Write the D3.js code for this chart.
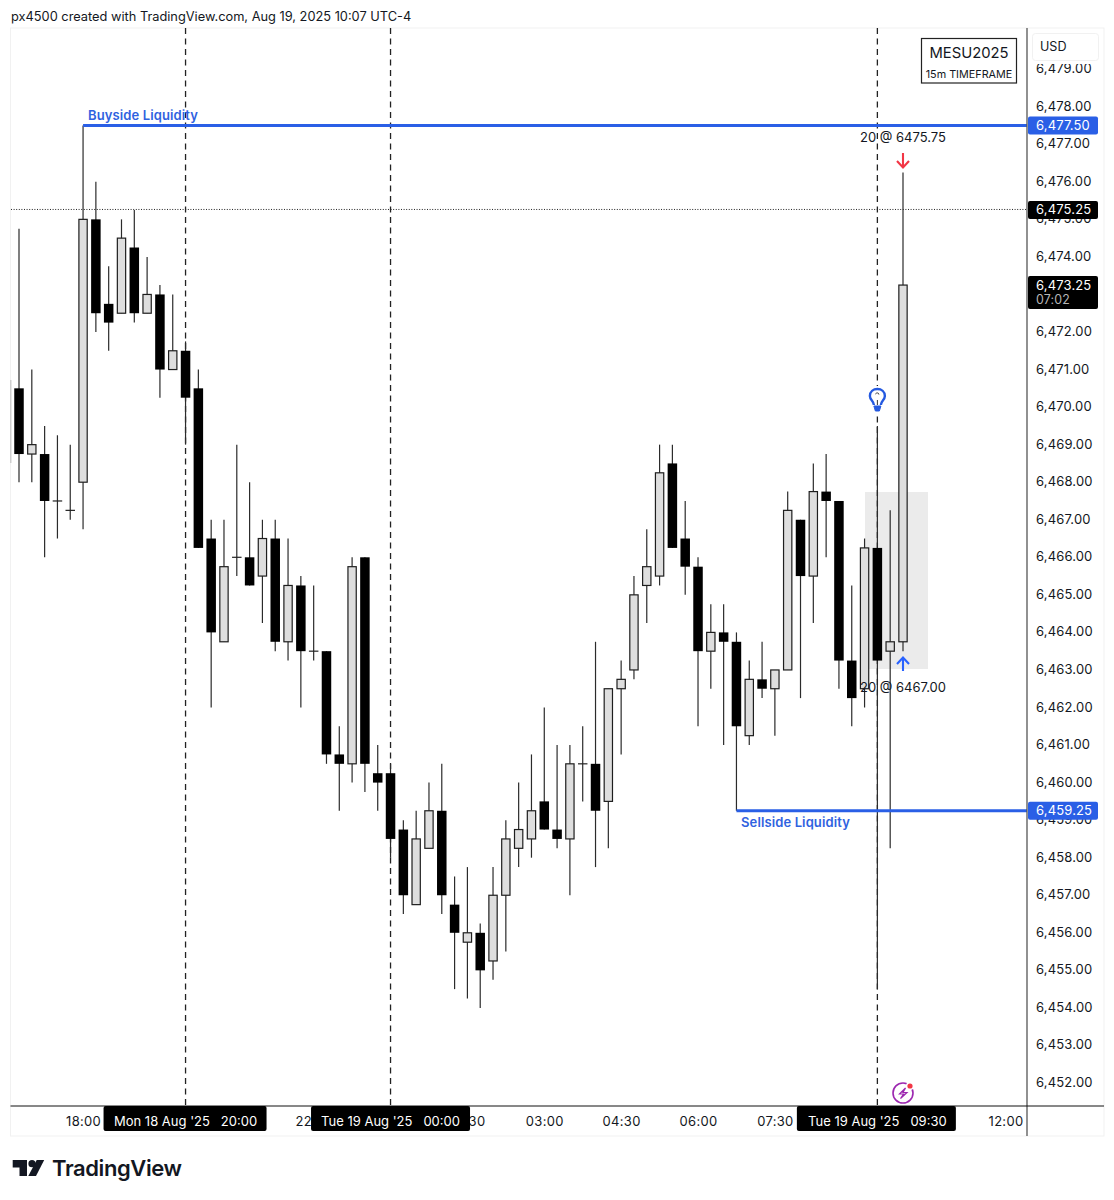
<!DOCTYPE html>
<html><head><meta charset="utf-8">
<script src="https://cdn.jsdelivr.net/npm/d3@7"></script>
<style>
html,body{margin:0;padding:0;background:#fff}
svg{display:block}
text{font-family:Inter,"Noto Sans",sans-serif;fill:#131722}
</style></head><body>
<script>
const opens=[6470.5,6468.75,6468.75,6467.5,6467.25,6468,6475,6472.75,6472.5,6474.25,6472.5,6473,6471,6471.5,6470.5,
6466.5,6463.75,6466,6466,6465.5,6466.5,6463.75,6465.25,6463.5,6463.5,6460.75,6460.5,6466,6460.25,6460.25,
6458.75,6456.75,6458.25,6459.25,6456.75,6455.75,6456,6455.25,6457,6458.25,6458.5,6459.5,6458.75,6458.5,6460.5,
6460.5,6459.5,6462.5,6463,6465.25,6465.5,6468.5,6466.5,6465.75,6463.5,6464,6463.75,6461.25,6462.75,6462.5,
6463,6467,6465.5,6467.75,6467.5,6463.25,6462.5,6466.25,6463.5,6463.75];
const closes=[6468.75,6469,6467.5,6467.5,6467.25,6475,6472.5,6472.25,6474.5,6472.5,6473,6471,6471.5,6470.25,6466.25,
6464,6465.75,6466,6465.25,6466.5,6463.75,6465.25,6463.5,6463.5,6460.75,6460.5,6465.75,6460.5,6460,6458.5,
6457,6458.5,6459.25,6457,6456,6456,6455,6457,6458.5,6458.75,6459.25,6458.75,6458.5,6460.5,6460.5,
6459.25,6462.5,6462.75,6465,6465.75,6468.25,6466.25,6465.75,6463.5,6464,6463.75,6461.5,6462.75,6462.5,6463,
6467.25,6465.5,6467.75,6467.5,6463.25,6462.25,6466.25,6463.25,6463.75,6473.25];
const highs=[6474.75,6471,6469.5,6469.25,6469,6477.5,6476,6473.75,6475,6475.25,6474,6473.25,6473,6471.75,6471,
6467,6467,6469,6468,6467,6467,6466.5,6465.5,6465.25,6463.5,6461.5,6466,6466,6461,6460.5,
6459,6459.25,6460,6460.5,6457.5,6457.75,6456.25,6457.75,6459,6460,6460.75,6462,6461,6461,6461.5,
6463.75,6462.5,6463.25,6465.5,6466.75,6469,6469,6467.5,6466,6464.75,6464.75,6464,6463.25,6463.75,6463,
6467.75,6467,6468.5,6468.75,6467.5,6465.25,6466.5,6469.5,6467.25,6476.25];
const lows=[6468,6468,6466,6466.5,6467,6466.75,6472,6471.5,6472.5,6472.25,6472.5,6470.25,6471,6469,6466.25,
6462,6463.75,6465.5,6465.25,6464.25,6463.5,6463.25,6462,6463.25,6460.5,6459.25,6460,6459.75,6459.25,6458,
6456.5,6456.75,6458.25,6456.5,6454.5,6454.25,6454,6454.75,6455.5,6457.75,6458,6458.75,6458.25,6457,6459.5,
6457.75,6458.25,6460.75,6462.75,6464.25,6465.25,6466.25,6465,6461.5,6462.5,6461,6459.25,6461,6462.25,6461.25,
6463,6462.25,6464.25,6466,6462.5,6461.5,6462,6454.5,6458.25,6463.5];

const priceTicks=[6452,6453,6454,6455,6456,6457,6458,6459,6460,6461,6462,6463,6464,6465,6466,6467,6468,6469,6470,6471,6472,6474,6475,6476,6477,6478,6479];
const timeTickIndex=[5,23,35,41,47,53,59,77];
const timeTickLabels=["18:00","22:30","01:30","03:00","04:30","06:00","07:30","12:00"];
const buysideLevel=6477.5, sellsideLevel=6459.25, crosshairLevel=6475.25, lastPrice=6473.25;
const dashedBars=[13,29,67];
const timeTags=[{bar:13,label:"Mon 18 Aug '25   20:00"},{bar:29,label:"Tue 19 Aug '25   00:00"},{bar:67,label:"Tue 19 Aug '25   09:30"}];
const sellEntry={bar:69,label:"20 @ 6475.75"}, buyEntry={bar:69,label:"20 @ 6467.00"};

const W=1114,H=1200;
const plot={l:11,r:1027,t:28,b:1106,outerR:1104,outerB:1136};
const y=d3.scaleLinear().domain([6452,6479]).range([1083,1083-27*37.55]);
const x=d3.scaleLinear().domain([0,69]).range([19,903]);
const bodyW=9.5;

const svg=d3.select("body").append("svg").attr("width",W).attr("height",H).attr("viewBox",`0 0 ${W} ${H}`);
svg.append("rect").attr("width",W).attr("height",H).attr("fill","#fff");

// frame
svg.append("rect").attr("x",10.5).attr("y",plot.t).attr("width",plot.outerR-10.5).attr("height",plot.outerB-plot.t)
  .attr("fill","#fff").attr("stroke","#f1f1f1");
svg.append("rect").attr("x",10).attr("y",380).attr("width",1.5).attr("height",83).attr("fill","#cfcfcf");

// header text
svg.append("text").attr("x",11).attr("y",21).attr("font-size",12.8).text("px4500 created with TradingView.com, Aug 19, 2025 10:07 UTC-4");

// highlight box
svg.append("rect").attr("x",865).attr("y",492).attr("width",63).attr("height",177).attr("fill","#ebebeb");

// vertical dashed
svg.append("g").selectAll("line").data(dashedBars).join("line")
  .attr("x1",d=>x(d)).attr("x2",d=>x(d)).attr("y1",plot.t).attr("y2",plot.b)
  .attr("stroke","#222").attr("stroke-width",1.3).attr("stroke-dasharray","6,4.5");

// crosshair dotted
svg.append("line").attr("x1",11).attr("x2",plot.r).attr("y1",y(crosshairLevel)-0.5).attr("y2",y(crosshairLevel)-0.5)
  .attr("stroke","#222").attr("stroke-width",1).attr("stroke-dasharray","1,1.6");

// candles
const idx=d3.range(opens.length);
const cg=svg.append("g");
cg.selectAll("line.w").data(idx).join("line").attr("class","w")
  .attr("x1",i=>x(i)).attr("x2",i=>x(i)).attr("y1",i=>y(highs[i])).attr("y2",i=>y(lows[i]))
  .attr("stroke","#2b2b2b").attr("stroke-width",1.2);
const isDoji=i=>opens[i]===closes[i];
cg.selectAll("line.d").data(idx.filter(isDoji)).join("line").attr("class","d")
  .attr("x1",i=>x(i)-bodyW/2).attr("x2",i=>x(i)+bodyW/2).attr("y1",i=>y(opens[i])).attr("y2",i=>y(opens[i]))
  .attr("stroke","#222").attr("stroke-width",1.2);
cg.selectAll("rect.dn").data(idx.filter(i=>closes[i]<opens[i])).join("rect").attr("class","dn")
  .attr("x",i=>x(i)-bodyW/2).attr("width",bodyW).attr("y",i=>y(opens[i])).attr("height",i=>y(closes[i])-y(opens[i]))
  .attr("fill","#000");
cg.selectAll("rect.up").data(idx.filter(i=>closes[i]>opens[i])).join("rect").attr("class","up")
  .attr("x",i=>x(i)-bodyW/2+0.6).attr("width",bodyW-1.2).attr("y",i=>y(closes[i])).attr("height",i=>y(opens[i])-y(closes[i]))
  .attr("fill","#dedede").attr("stroke","#1e1e1e").attr("stroke-width",1.2);

// liquidity lines
svg.append("line").attr("x1",x(5)).attr("x2",plot.r).attr("y1",y(buysideLevel)).attr("y2",y(buysideLevel)).attr("stroke","#2a5fe6").attr("stroke-width",3);
svg.append("line").attr("x1",x(56)).attr("x2",plot.r).attr("y1",y(sellsideLevel)).attr("y2",y(sellsideLevel)).attr("stroke","#2a5fe6").attr("stroke-width",3);
svg.append("text").attr("x",88).attr("y",120).attr("font-size",13).attr("font-weight",600).attr("letter-spacing",0.12).style("fill","#2f62e0").text("Buyside Liquidity");
svg.append("text").attr("x",741).attr("y",826.5).attr("font-size",13).attr("font-weight",600).attr("letter-spacing",0.12).style("fill","#2f62e0").text("Sellside Liquidity");

// execution labels and arrows
svg.append("text").attr("x",x(sellEntry.bar)).attr("y",142).attr("text-anchor","middle").attr("font-size",13).text(sellEntry.label);
svg.append("text").attr("x",x(buyEntry.bar)).attr("y",692).attr("text-anchor","middle").attr("font-size",13).text(buyEntry.label);
const ax=x(69);
svg.append("path").attr("d",`M${ax} 153V167M${ax-6} 161L${ax} 167.5L${ax+6} 161`).attr("fill","none").attr("stroke","#f23645").attr("stroke-width",2.1);
svg.append("path").attr("d",`M${ax} 671V658M${ax-6} 664L${ax} 657.5L${ax+6} 664`).attr("fill","none").attr("stroke","#2962ff").attr("stroke-width",2.1);

// bulb icon
const bx=x(67);
svg.append("rect").attr("x",bx-9).attr("y",386).attr("width",18).attr("height",28).attr("fill","#fff");
const bulb=svg.append("g").attr("fill","none").attr("stroke","#2459e0").attr("stroke-width",2.4);
bulb.append("path").attr("d",`M${bx-3.5} 405C${bx-3.5} 401 ${bx-7.5} 400 ${bx-7.5} 396C${bx-7.5} 391.5 ${bx-4} 389 ${bx} 389C${bx+4} 389 ${bx+7.5} 391.5 ${bx+7.5} 396C${bx+7.5} 400 ${bx+3.5} 401 ${bx+3.5} 405`);
bulb.append("path").attr("d",`M${bx-2} 394C${bx-1} 392.5 ${bx+1.5} 392.5 ${bx+1.5} 394.5M${bx} 400V405`).attr("stroke","#333").attr("stroke-width",1);
bulb.append("path").attr("d",`M${bx-3.5} 406H${bx+3.5}L${bx+2} 411H${bx-2}Z`).attr("fill","#2459e0").attr("stroke-width",1);

// bolt icon
const bolt=svg.append("g").attr("transform","translate(903,1093)");
bolt.append("circle").attr("r",10).attr("fill","#fff").attr("stroke","#9c27b0").attr("stroke-width",1.6);
bolt.append("path").attr("d","M2.5 -5L-3.5 1H0.5L-2.5 5.5L4 -0.5H0Z").attr("fill","none").attr("stroke","#9c27b0").attr("stroke-width",1.2);
bolt.append("circle").attr("cx",7).attr("cy",-7).attr("r",4).attr("fill","#fff");
bolt.append("circle").attr("cx",7).attr("cy",-7).attr("r",2.6).attr("fill","#f23645");

// axis frame lines
svg.append("line").attr("x1",plot.r).attr("x2",plot.r).attr("y1",plot.t).attr("y2",plot.outerB).attr("stroke","#555").attr("stroke-width",1.3);
svg.append("line").attr("x1",10.5).attr("x2",plot.outerR).attr("y1",plot.b).attr("y2",plot.b).attr("stroke","#111").attr("stroke-width",1);

// price axis
const yAxis=d3.axisRight(y).tickValues(priceTicks).tickSize(0).tickPadding(9).tickFormat(d3.format(",.2f"));
const yg=svg.append("g").attr("transform",`translate(${plot.r},0)`).call(yAxis);
yg.select(".domain").remove();
yg.selectAll("text").attr("font-size",13).attr("dy","0.27em").attr("letter-spacing",0.15).style("font-family","Inter,'Noto Sans',sans-serif").style("fill","#131722");

// currency box (covers the top of the highest label)
svg.append("rect").attr("x",1028).attr("y",29).attr("width",75).attr("height",35).attr("fill","#fff");
svg.append("rect").attr("x",1032.5).attr("y",33.5).attr("width",66).attr("height",27).attr("rx",3).attr("fill","#fff").attr("stroke","#f1f1f1");
svg.append("text").attr("x",1040).attr("y",51).attr("font-size",12.6).text("USD");

// price tags
function tag(price,fill,txt){
  const c=y(price);
  svg.append("rect").attr("x",plot.r+1).attr("y",c-9).attr("width",70).attr("height",18).attr("rx",2).attr("fill",fill);
  svg.append("text").attr("x",1036).attr("y",c+4.5).attr("font-size",13).attr("letter-spacing",0.15).style("fill",txt).text(d3.format(",.2f")(price));
}
tag(buysideLevel,"#2a5fe6","#fff");
tag(sellsideLevel,"#2a5fe6","#fff");
tag(crosshairLevel,"#000","#fff");
const ly=y(lastPrice);
svg.append("rect").attr("x",plot.r+1).attr("y",ly-9).attr("width",70).attr("height",33).attr("rx",2).attr("fill","#000");
svg.append("text").attr("x",1036).attr("y",ly+4.5).attr("font-size",13).attr("letter-spacing",0.15).style("fill","#fff").text(d3.format(",.2f")(lastPrice));
svg.append("text").attr("x",1036).attr("y",ly+19).attr("font-size",12.4).attr("letter-spacing",0.2).style("fill","#b5b5b5").text("07:02");

// time axis
const xAxis=d3.axisBottom(x).tickValues(timeTickIndex).tickSize(0).tickPadding(11)
  .tickFormat(d=>timeTickLabels[timeTickIndex.indexOf(d)]);
const xg=svg.append("g").attr("transform",`translate(0,${plot.b})`).call(xAxis);
xg.select(".domain").remove();
xg.selectAll("text").attr("font-size",13).attr("letter-spacing",0.3).style("font-family","Inter,'Noto Sans',sans-serif").style("fill","#131722");

// time tags
const tagG=svg.append("g").selectAll("g").data(timeTags).join("g");
tagG.each(function(d){
  const g=d3.select(this), c=x(d.bar), w=d.bar===13?163:159;
  g.append("rect").attr("x",c-(d.bar===13?82:(d.bar===29?79.5:80.5))).attr("y",plot.b).attr("width",w).attr("height",25).attr("rx",2).attr("fill","#000");
  g.append("text").attr("x",c).attr("y",plot.b+20).attr("text-anchor","middle").attr("font-size",13).style("fill","#fff").style("white-space","pre").text(d.label);
});

// logo
const logo=svg.append("g").attr("fill","#131722");
logo.append("path").attr("d","M12.7 1160H27V1176H19.5V1167.5H12.7Z");
logo.append("circle").attr("cx",32).attr("cy",1163.7).attr("r",3.6);
logo.append("path").attr("d","M36.7 1160H44.2L36 1176H28.3Z");
svg.append("text").attr("x",52).attr("y",1176).attr("font-size",22).attr("font-weight",600).attr("letter-spacing",-0.4).text("TradingView");

// legend box
svg.append("rect").attr("x",921.5).attr("y",38.5).attr("width",95).attr("height",44.5).attr("fill","#fff").attr("stroke","#222").attr("stroke-width",1.2);
svg.append("text").attr("x",969).attr("y",58).attr("text-anchor","middle").attr("font-size",14.8).text("MESU2025");
svg.append("text").attr("x",969).attr("y",78).attr("text-anchor","middle").attr("font-size",10.8).text("15m TIMEFRAME");
</script>
</body></html>
